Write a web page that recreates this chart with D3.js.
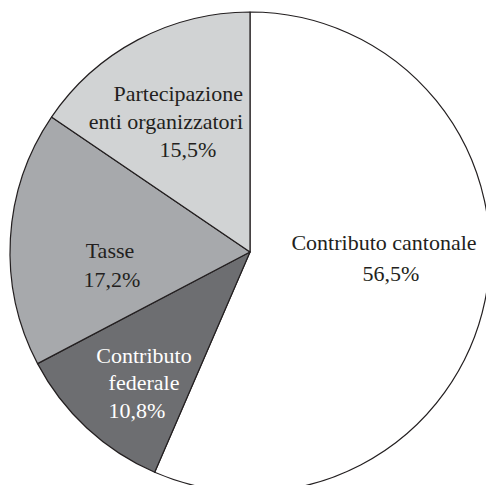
<!DOCTYPE html>
<html>
<head>
<meta charset="utf-8">
<script src="https://cdn.jsdelivr.net/npm/d3@7"></script>
</head>
<body style="margin:0">
<svg id="chart" width="486" height="485"></svg>
<script>
const categories = ["Contributo cantonale", "Contributo federale", "Tasse", "Partecipazione enti organizzatori"];
const values = [56.5, 10.8, 17.2, 15.5];
const valueLabels = ["56,5%", "10,8%", "17,2%", "15,5%"];
const labelLines = [
  ["Contributo cantonale"],
  ["Contributo", "federale"],
  ["Tasse"],
  ["Partecipazione", "enti organizzatori"]
];

const colors = ["#ffffff", "#6d6e71", "#a7a9ac", "#d1d3d4"];
const textColors = ["#231f20", "#ffffff", "#231f20", "#231f20"];

const svg = d3.select("#chart");
const cx = 250, cy = 252, R = 240;
const g = svg.append("g").attr("transform", `translate(${cx},${cy})`);

const pie = d3.pie().sort(null).value(d => d.v).startAngle(0).endAngle(2 * Math.PI);
const data = categories.map((c, i) => ({c, v: values[i], i}));
const arcs = pie(data);
const arc = d3.arc().innerRadius(0).outerRadius(R);

g.selectAll("path.slice").data(arcs).enter().append("path")
  .attr("class", "slice")
  .attr("d", arc)
  .attr("fill", d => colors[d.data.i])
  .attr("stroke", "#231f20")
  .attr("stroke-width", 1.2)
  .attr("stroke-linejoin", "round");

// label layout (absolute page coordinates per slice); anchor: 0.5 = centre, 1 = right end
const layout = [
  {lines: [[384, 250, 0.5]], value: [391, 281, 0.5]},
  {lines: [[144, 363, 0.5], [144, 390, 0.5]], value: [137, 418, 0.5]},
  {lines: [[110, 258, 0.5]], value: [112, 287, 0.5]},
  {lines: [[243, 101, 1], [243, 129, 1]], value: [188, 157, 0.5]}
];

const FONT = `"Liberation Serif", "Times New Roman", "Tinos", "FreeSerif", "Nimbus Roman", "Noto Serif CJK SC"`;
function addText(x, y, anchor, color, t) {
  const el = svg.append("text").attr("x", x).attr("y", y).attr("font-size", 22)
    .style("font-family", FONT)
    .style("fill", color)
    .text(t);
  let w = 0;
  try { w = el.node().getComputedTextLength(); } catch (e) { w = 0; }
  el.attr("x", x - w * anchor);
}
arcs.forEach(d => {
  const i = d.data.i;
  const L = layout[i];
  labelLines[i].forEach((t, k) => {
    const p = L.lines[k];
    addText(p[0], p[1], p[2], textColors[i], t);
  });
  const p = L.value;
  addText(p[0], p[1], p[2], textColors[i], valueLabels[i]);
});
</script>
</body>
</html>
